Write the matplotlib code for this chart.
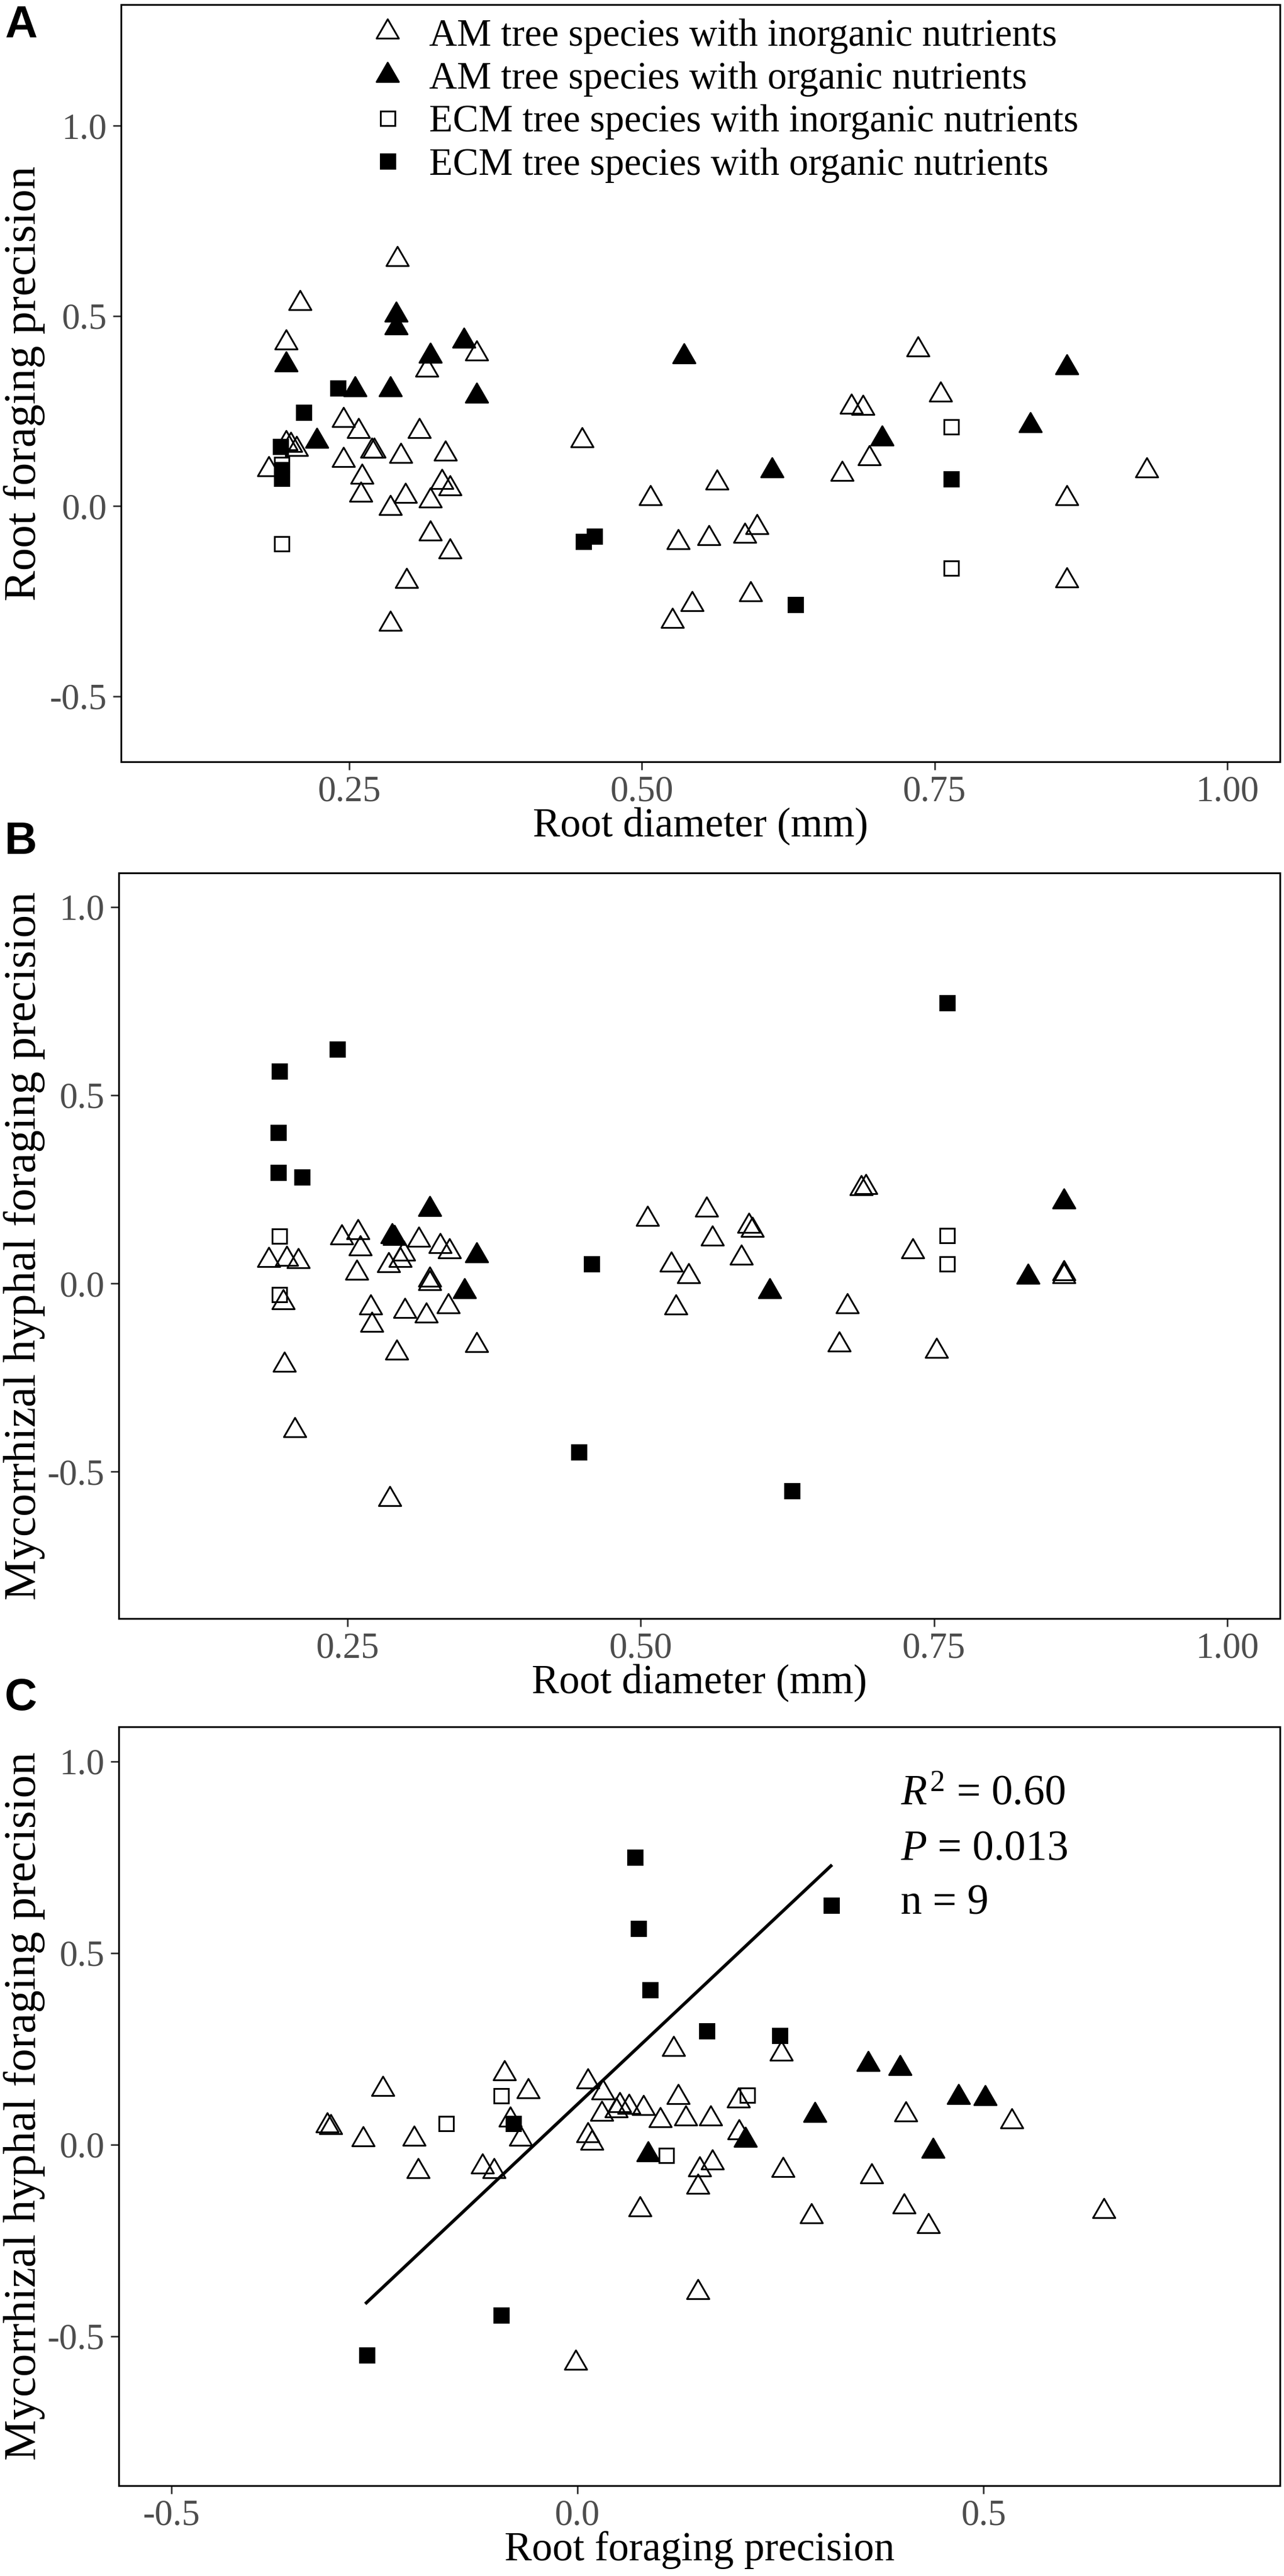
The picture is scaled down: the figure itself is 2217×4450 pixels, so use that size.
import numpy as np
import matplotlib
matplotlib.use("Agg")
import matplotlib.pyplot as plt
from matplotlib.path import Path

plt.rcParams['font.family'] = ['Liberation Serif', 'DejaVu Serif']
plt.rcParams['mathtext.fontset'] = 'custom'
plt.rcParams['mathtext.rm'] = 'Liberation Serif'
plt.rcParams['mathtext.it'] = 'Liberation Serif:italic'

# ---- data ----
group_labels = ["AM tree species with inorganic nutrients",
                "AM tree species with organic nutrients",
                "ECM tree species with inorganic nutrients",
                "ECM tree species with organic nutrients"]

# panel A: root diameter vs root foraging precision
a_am_in_x = [0.291, 0.208, 0.196, 0.359, 0.316, 0.245, 0.258, 0.310, 0.196, 0.200, 0.205, 0.181,
             0.269, 0.271, 0.294, 0.332, 0.245, 0.261, 0.329, 0.336, 0.260, 0.298, 0.319, 0.285,
             0.319, 0.336, 0.299, 0.285,
             0.449, 0.507, 0.564, 0.531, 0.557, 0.588, 0.598, 0.543, 0.526, 0.593, 0.679, 0.689,
             0.671, 0.694, 0.736, 0.755, 0.863, 0.863, 0.931]
a_am_in_y = [0.649, 0.533, 0.429, 0.400, 0.358, 0.225, 0.196, 0.196, 0.165, 0.160, 0.150, 0.097,
             0.145, 0.145, 0.131, 0.138, 0.120, 0.077, 0.063, 0.046, 0.029, 0.026, 0.014, -0.005,
             -0.073, -0.120, -0.198, -0.310,
             0.172, 0.021, 0.062, -0.096, -0.085, -0.078, -0.056, -0.258, -0.302, -0.233, 0.261, 0.258,
             0.084, 0.125, 0.411, 0.293, 0.021, -0.196, 0.094]
a_am_org_x = [0.290, 0.290, 0.348, 0.319, 0.196, 0.255, 0.285, 0.359, 0.222, 0.536, 0.611, 0.705, 0.832, 0.863]
a_am_org_y = [0.502, 0.469, 0.434, 0.394, 0.371, 0.307, 0.307, 0.289, 0.171, 0.393, 0.094, 0.177, 0.212, 0.364]
a_ecm_in_x = [0.192, 0.192, 0.764, 0.764]
a_ecm_in_y = [0.110, -0.099, 0.209, -0.163]
a_ecm_org_x = [0.240, 0.211, 0.191, 0.192, 0.192, 0.450, 0.459, 0.631, 0.764]
a_ecm_org_y = [0.311, 0.247, 0.157, 0.097, 0.074, -0.093, -0.078, -0.258, 0.072]

# panel B: root diameter vs mycorrhizal hyphal foraging precision
b_am_in_x = [0.183, 0.198, 0.208, 0.195, 0.196, 0.205, 0.245, 0.259, 0.261, 0.258, 0.285, 0.295,
             0.298, 0.311, 0.329, 0.337, 0.320, 0.320, 0.270, 0.271, 0.299, 0.317, 0.336, 0.292,
             0.360, 0.286,
             0.506, 0.556, 0.526, 0.541, 0.530, 0.561, 0.586, 0.592, 0.595, 0.688, 0.692, 0.676,
             0.669, 0.732, 0.752, 0.861, 0.861]
b_am_in_y = [0.061, 0.064, 0.058, -0.051, -0.217, -0.390, 0.121, 0.136, 0.093, 0.028, 0.048, 0.062,
             0.078, 0.115, 0.098, 0.084, 0.010, 0.000, -0.065, -0.110, -0.074, -0.086, -0.061, -0.184,
             -0.164, -0.573,
             0.170, 0.196, 0.050, 0.018, -0.064, 0.118, 0.068, 0.152, 0.142, 0.252, 0.255, -0.061,
             -0.163, 0.085, -0.180, 0.026, 0.018]
b_am_org_x = [0.320, 0.290, 0.288, 0.360, 0.350, 0.610, 0.830, 0.861]
b_am_org_y = [0.197, 0.120, 0.124, 0.074, -0.021, -0.021, 0.017, 0.217]
b_ecm_in_x = [0.192, 0.192, 0.761, 0.761]
b_ecm_in_y = [0.126, -0.029, 0.128, 0.052]
b_ecm_org_x = [0.241, 0.192, 0.191, 0.191, 0.211, 0.761, 0.458, 0.447, 0.629]
b_ecm_org_y = [0.622, 0.565, 0.401, 0.295, 0.283, 0.745, 0.052, -0.447, -0.550]

# panel C: root foraging precision vs mycorrhizal hyphal foraging precision
c_am_in_x = [-0.308, -0.304, -0.240, -0.264, -0.201, -0.196, -0.090, -0.061, -0.083, -0.070, -0.117,
             -0.103, 0.013, 0.031, 0.030, 0.013, 0.018, 0.052, 0.063, 0.081, 0.048, 0.118, 0.124,
             0.102, 0.133, 0.164, 0.198, 0.199, 0.166, 0.150, 0.148, 0.251, 0.253, 0.077, 0.288,
             0.362, 0.402, 0.432, 0.404, 0.535, 0.148, -0.002, 0.648]
c_am_in_y = [0.049, 0.045, 0.145, 0.013, 0.014, -0.070, 0.186, 0.138, 0.064, 0.014, -0.058,
             -0.070, 0.164, 0.136, 0.080, 0.024, 0.004, 0.103, 0.098, 0.095, 0.088, 0.249, 0.123,
             0.063, 0.068, 0.067, 0.115, 0.031, -0.047, -0.065, -0.110, 0.237, -0.067, -0.170, -0.188,
             -0.083, -0.162, -0.214, 0.078, 0.060, -0.385, -0.570, -0.174]
c_am_org_x = [0.358, 0.397, 0.469, 0.502, 0.292, 0.438, 0.207, 0.087]
c_am_org_y = [0.210, 0.199, 0.124, 0.120, 0.076, -0.017, 0.012, -0.026]
c_ecm_in_x = [-0.094, -0.162, 0.109, 0.209]
c_ecm_in_y = [0.128, 0.055, -0.028, 0.129]
c_ecm_org_x = [0.0705, 0.075, 0.089, 0.159, 0.249, 0.312, -0.079, -0.094, -0.260]
c_ecm_org_y = [0.750, 0.564, 0.404, 0.297, 0.285, 0.625, 0.055, -0.444, -0.549]

stats_lines = [r"$R^2$ = 0.60", r"$P$ = 0.013", "n = 9"]

# ---- styling ----
tri = Path([(0, 1), (-0.866, -0.5), (0.866, -0.5), (0, 1)],
           [Path.MOVETO, Path.LINETO, Path.LINETO, Path.CLOSEPOLY])
styles = [dict(marker=tri, ms=16, mfc='none', mec='black', mew=1.1),
          dict(marker=tri, ms=16, mfc='black', mec='black', mew=1.1),
          dict(marker='s', ms=9.0, mfc='none', mec='black', mew=1.1),
          dict(marker='s', ms=9.0, mfc='black', mec='black', mew=1.1)]

TICK_FS = 22.5
XTITLE_FS = 25.5
YTITLE_FS = 28.5
W, H = 2217, 4450

fig = plt.figure(figsize=(W / 200, H / 200), dpi=200)


def add_axes(left, right, top, bottom):
    return fig.add_axes([left / W, 1 - bottom / H, (right - left) / W, (bottom - top) / H])


def style_axes(ax, xlim, ylim, xticks, xlabels, ylabel, xlabel):
    ax.set_xlim(*xlim)
    ax.set_ylim(*ylim)
    ax.set_xticks(xticks)
    ax.set_xticklabels(xlabels)
    ax.set_yticks([-0.5, 0.0, 0.5, 1.0])
    ax.set_yticklabels(['-0.5', '0.0', '0.5', '1.0'])
    ax.tick_params(length=5, width=1.0, color='#333333', labelcolor='#4D4D4D',
                   labelsize=TICK_FS, pad=3.6)
    for s in ax.spines.values():
        s.set_linewidth(1.1)
        s.set_color('black')
    # place the axis titles where the reference has them (pixels from the frame)
    bbox = ax.get_position()
    w_px, h_px = bbox.width * W, bbox.height * H
    ax.set_xlabel(xlabel, fontsize=XTITLE_FS, va='center')
    ax.xaxis.set_label_coords(0.5, -111 / h_px)
    ax.set_ylabel(ylabel, fontsize=YTITLE_FS, va='center')
    ax.yaxis.set_label_coords(-(bbox.x0 * W - 42) / w_px, 0.5)


def scatter_groups(ax, groups):
    for (gx, gy), st, lab in zip(groups, styles, group_labels):
        ax.plot(gx, gy, ls='none', label=lab, **st)


# panel A
axA = add_axes(209, 2210, 8, 1316)
scatter_groups(axA, [(a_am_in_x, a_am_in_y), (a_am_org_x, a_am_org_y),
                     (a_ecm_in_x, a_ecm_in_y), (a_ecm_org_x, a_ecm_org_y)])
style_axes(axA, (0.055, 1.045), (-0.672, 1.318), [0.25, 0.50, 0.75, 1.00],
           ['0.25', '0.50', '0.75', '1.00'], "Root foraging precision", "Root diameter (mm)")
axA.legend(loc='upper left', bbox_to_anchor=(0.213, 0.982), frameon=False,
           fontsize=24, handlelength=1.0, handletextpad=0.58, labelspacing=0.2,
           borderpad=0, borderaxespad=0)

# panel B
axB = add_axes(205, 2210, 1508, 2796)
scatter_groups(axB, [(b_am_in_x, b_am_in_y), (b_am_org_x, b_am_org_y),
                     (b_ecm_in_x, b_ecm_in_y), (b_ecm_org_x, b_ecm_org_y)])
style_axes(axB, (0.055, 1.045), (-0.89, 1.09), [0.25, 0.50, 0.75, 1.00],
           ['0.25', '0.50', '0.75', '1.00'], "Mycorrhizal hyphal foraging precision",
           "Root diameter (mm)")

# panel C
axC = add_axes(205, 2210, 2983, 4294)
scatter_groups(axC, [(c_am_in_x, c_am_in_y), (c_am_org_x, c_am_org_y),
                     (c_ecm_in_x, c_ecm_in_y), (c_ecm_org_x, c_ecm_org_y)])
coef = np.polyfit(c_ecm_org_x, c_ecm_org_y, 1)
xs = np.linspace(min(c_ecm_org_x), max(c_ecm_org_x), 50)
axC.plot(xs, np.polyval(coef, xs), color='black', lw=2.0)
style_axes(axC, (-0.565, 0.865), (-0.89, 1.09), [-0.5, 0.0, 0.5],
           ['-0.5', '0.0', '0.5'], "Mycorrhizal hyphal foraging precision",
           "Root foraging precision")
for i, line in enumerate(stats_lines):
    axC.text(0.398, 0.887 - 0.143 * i, line, fontsize=26.5, va='baseline', ha='left')

# panel letters
for lab, top in [("A", 7), ("B", 1418), ("C", 2897)]:
    fig.text(8 / W, 1 - top / H, lab, ha='left', va='top', fontsize=28,
             fontweight='bold', family='Liberation Sans')

fig.savefig("out.png", dpi=200, facecolor='white')
